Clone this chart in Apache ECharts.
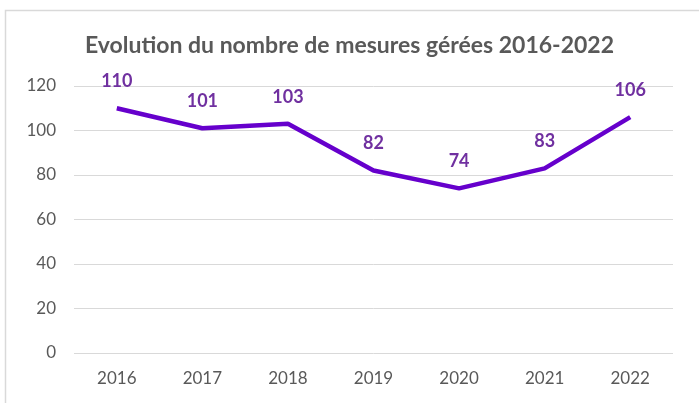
<!DOCTYPE html>
<html><head><meta charset="utf-8">
<script src="https://cdn.jsdelivr.net/npm/echarts@6/dist/echarts.min.js"></script>
<style>html,body{margin:0;padding:0;background:#fff}#c{width:699px;height:403px}</style>
</head><body><div id="c"></div>
<script>
const categories = ['2016','2017','2018','2019','2020','2021','2022'];
const values = [110, 101, 103, 82, 74, 83, 106];
const yTicks = [0, 20, 40, 60, 80, 100, 120];

const chart = echarts.init(document.getElementById('c'));
chart.setOption({
  animation: false,
  backgroundColor: '#fff',
  graphic: [{type:'rect', shape:{x:5.5, y:10.5, width:720, height:420}, style:{fill:'none', stroke:'#d9d9d9', lineWidth:1.5}, silent:true}],
  title: {
    text: 'Evolution du nombre de mesures gérées 2016-2022',
    left: 'center', top: 29,
    textStyle: {fontFamily: 'Lato', fontWeight: 'bold', fontSize: 23, color: '#595959'}
  },
  grid: {left: 74, right: 26, top: 86, bottom: 50, containLabel: false},
  xAxis: {
    type: 'category', data: categories, boundaryGap: true,
    axisLine: {show: false}, axisTick: {show: false},
    axisLabel: {fontFamily: 'Lato', fontSize: 17, color: '#595959', margin: 17}
  },
  yAxis: {
    type: 'value', min: yTicks[0], max: yTicks[yTicks.length-1], interval: 20,
    axisLine: {show: false}, axisTick: {show: false},
    splitLine: {lineStyle: {color: '#d9d9d9', width: 1}},
    axisLabel: {fontFamily: 'Lato', fontSize: 17, color: '#595959', margin: 18}
  },
  series: [{
    type: 'line', data: values, symbol: 'circle', symbolSize: 2, showSymbol: true,
    itemStyle: {color: '#6600cc', opacity: 0},
    lineStyle: {color: '#6600cc', width: 4.5},
    label: {show: true, position: 'top', distance: 17, fontFamily: 'Lato', fontWeight: 'bold', fontSize: 18, color: '#7030a0', opacity: 1}
  }]
});
</script></body></html>
